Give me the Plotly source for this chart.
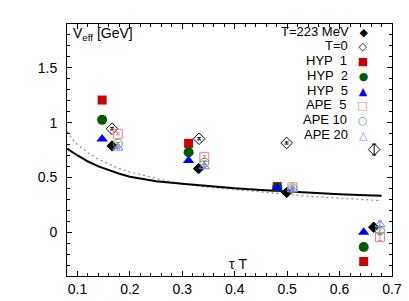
import plotly.graph_objects as go

# ---- data ----
curve_x = [0.08, 0.09, 0.10, 0.11, 0.12, 0.14, 0.16, 0.18, 0.20, 0.25, 0.30, 0.35,
           0.40, 0.45, 0.50, 0.55, 0.60, 0.65, 0.68]
solid_y = [0.763, 0.73, 0.70, 0.673, 0.645, 0.60, 0.563, 0.533, 0.506, 0.465, 0.443, 0.42,
           0.40, 0.385, 0.37, 0.355, 0.345, 0.337, 0.332]
dotted_y = [0.92, 0.85, 0.80, 0.765, 0.725, 0.665, 0.62, 0.58, 0.55, 0.49, 0.44, 0.41,
            0.39, 0.365, 0.345, 0.325, 0.31, 0.295, 0.288]

t223_x = [0.166, 0.331, 0.499, 0.665]
t223_y = [0.787, 0.58, 0.362, 0.045]
t223_e = [0.01, 0.01, 0.01, 0.015]

t0_x = [0.166, 0.332, 0.499, 0.666]
t0_y = [0.944, 0.853, 0.814, 0.754]
t0_e = [0.01, 0.01, 0.01, 0.05]

hyp_x = [0.147, 0.312, 0.481, 0.646]
hyp1_y = [1.206, 0.81, 0.416, -0.268]
hyp2_y = [1.025, 0.73, 0.41, -0.135]
hyp5_y = [0.85, 0.655, 0.405, 0.0]

ape_x = [0.177, 0.342, 0.51, 0.677]
ape5_y = [0.898, 0.687, 0.41, -0.045]
ape10_y = [0.808, 0.636, 0.40, 0.015]
ape20_y = [0.77, 0.60, 0.39, 0.07]
ape_e = [0.01, 0.015, 0.01, 0.03]

legend_labels = ["T=223 MeV", "T=0", "HYP  1", "HYP  2", "HYP  5", "APE  5", "APE 10", "APE 20"]
legend_symbols = ["◆", "◇", "■", "●", "▲", "□", "○", "△"]
legend_colors = ["#000000", "#000000", "#cc0000", "#005a00", "#0000ff", "#f08080", "#5fa05f", "#7f7fff"]

xticks = [0.1, 0.2, 0.3, 0.4, 0.5, 0.6, 0.7]
yticks = [0, 0.5, 1, 1.5]
yticktext = ["0", "0.5", "1", "1.5"]

FONT = "Liberation Sans, Arial, sans-serif"

fig = go.Figure()

fig.add_trace(go.Scatter(x=curve_x, y=dotted_y, mode="lines",
                         line=dict(color="#8a8a8a", width=1.2, dash="2px,3px")))
fig.add_trace(go.Scatter(x=curve_x, y=solid_y, mode="lines",
                         line=dict(color="black", width=2)))


def pts(x, y, symbol, color, size, err=None, lw=1):
    marker = dict(symbol=symbol, size=size, color=color, line=dict(color=color, width=lw))
    tr = go.Scatter(x=x, y=y, mode="markers", marker=marker)
    if err is not None:
        tr.error_y = dict(type="data", array=err, color=color, thickness=1, width=2)
    fig.add_trace(tr)


pts(t223_x, t223_y, "diamond", legend_colors[0], 8, t223_e)
pts(t0_x, t0_y, "diamond-open", legend_colors[1], 9, t0_e)
pts(hyp_x, hyp1_y, "square", legend_colors[2], 9, None, 0)
pts(hyp_x, hyp2_y, "circle", legend_colors[3], 10, None, 0)
pts(hyp_x, hyp5_y, "triangle-up", legend_colors[4], 10, None, 0)
pts(ape_x, ape5_y, "square-open", legend_colors[5], 9, ape_e)
pts(ape_x, ape10_y, "circle-open", legend_colors[6], 9, ape_e)
pts(ape_x, ape20_y, "triangle-up-open", legend_colors[7], 9, ape_e)

# legend drawn as text (right-aligned labels, symbol to the right)
annotations = []
row0, rowstep = 0.972, 0.0586
for i, (lab, sym, col) in enumerate(zip(legend_labels, legend_symbols, legend_colors)):
    yy = row0 - i * rowstep
    txt = (lab + "\u00a0\u00a0\u00a0" +
           "<span style='color:%s;font-family:DejaVu Sans;font-size:11px'>%s</span>" % (col, sym))
    annotations.append(dict(x=0.928, y=yy, xref="paper", yref="paper", xanchor="right",
                            yanchor="middle", valign="middle", text=txt, showarrow=False,
                            borderpad=0, height=13,
                            font=dict(family=FONT, size=13, color="black")))

annotations.append(dict(x=0.012, y=0.962, xref="paper", yref="paper", xanchor="left",
                        yanchor="middle", text="V<sub>eff</sub> [GeV]", showarrow=False,
                        font=dict(family=FONT, size=14, color="black")))
annotations.append(dict(x=0.525, y=0.048, xref="paper", yref="paper", xanchor="center",
                        yanchor="middle", text="τ T", showarrow=False,
                        font=dict(family=FONT, size=14, color="black")))

axis_common = dict(showgrid=False, zeroline=False, showline=True, linecolor="black",
                   linewidth=1, mirror="ticks", ticks="inside", ticklen=5,
                   tickcolor="black", tickfont=dict(family=FONT, size=14, color="black"))

fig.update_layout(
    width=409, height=301,
    margin=dict(l=59, r=25, t=16, b=29),
    paper_bgcolor="white", plot_bgcolor="white",
    showlegend=False,
    annotations=annotations,
    xaxis=dict(range=[0.08, 0.7], tickvals=xticks,
               minor=dict(dtick=0.02, tick0=0, ticks="inside", ticklen=3, tickcolor="black"),
               **axis_common),
    yaxis=dict(range=[-0.4, 1.9], tickvals=yticks, ticktext=yticktext,
               minor=dict(dtick=0.1, tick0=0, ticks="inside", ticklen=3, tickcolor="black"),
               ticklabelstandoff=6, **axis_common),
)

fig.write_html("out.html")
